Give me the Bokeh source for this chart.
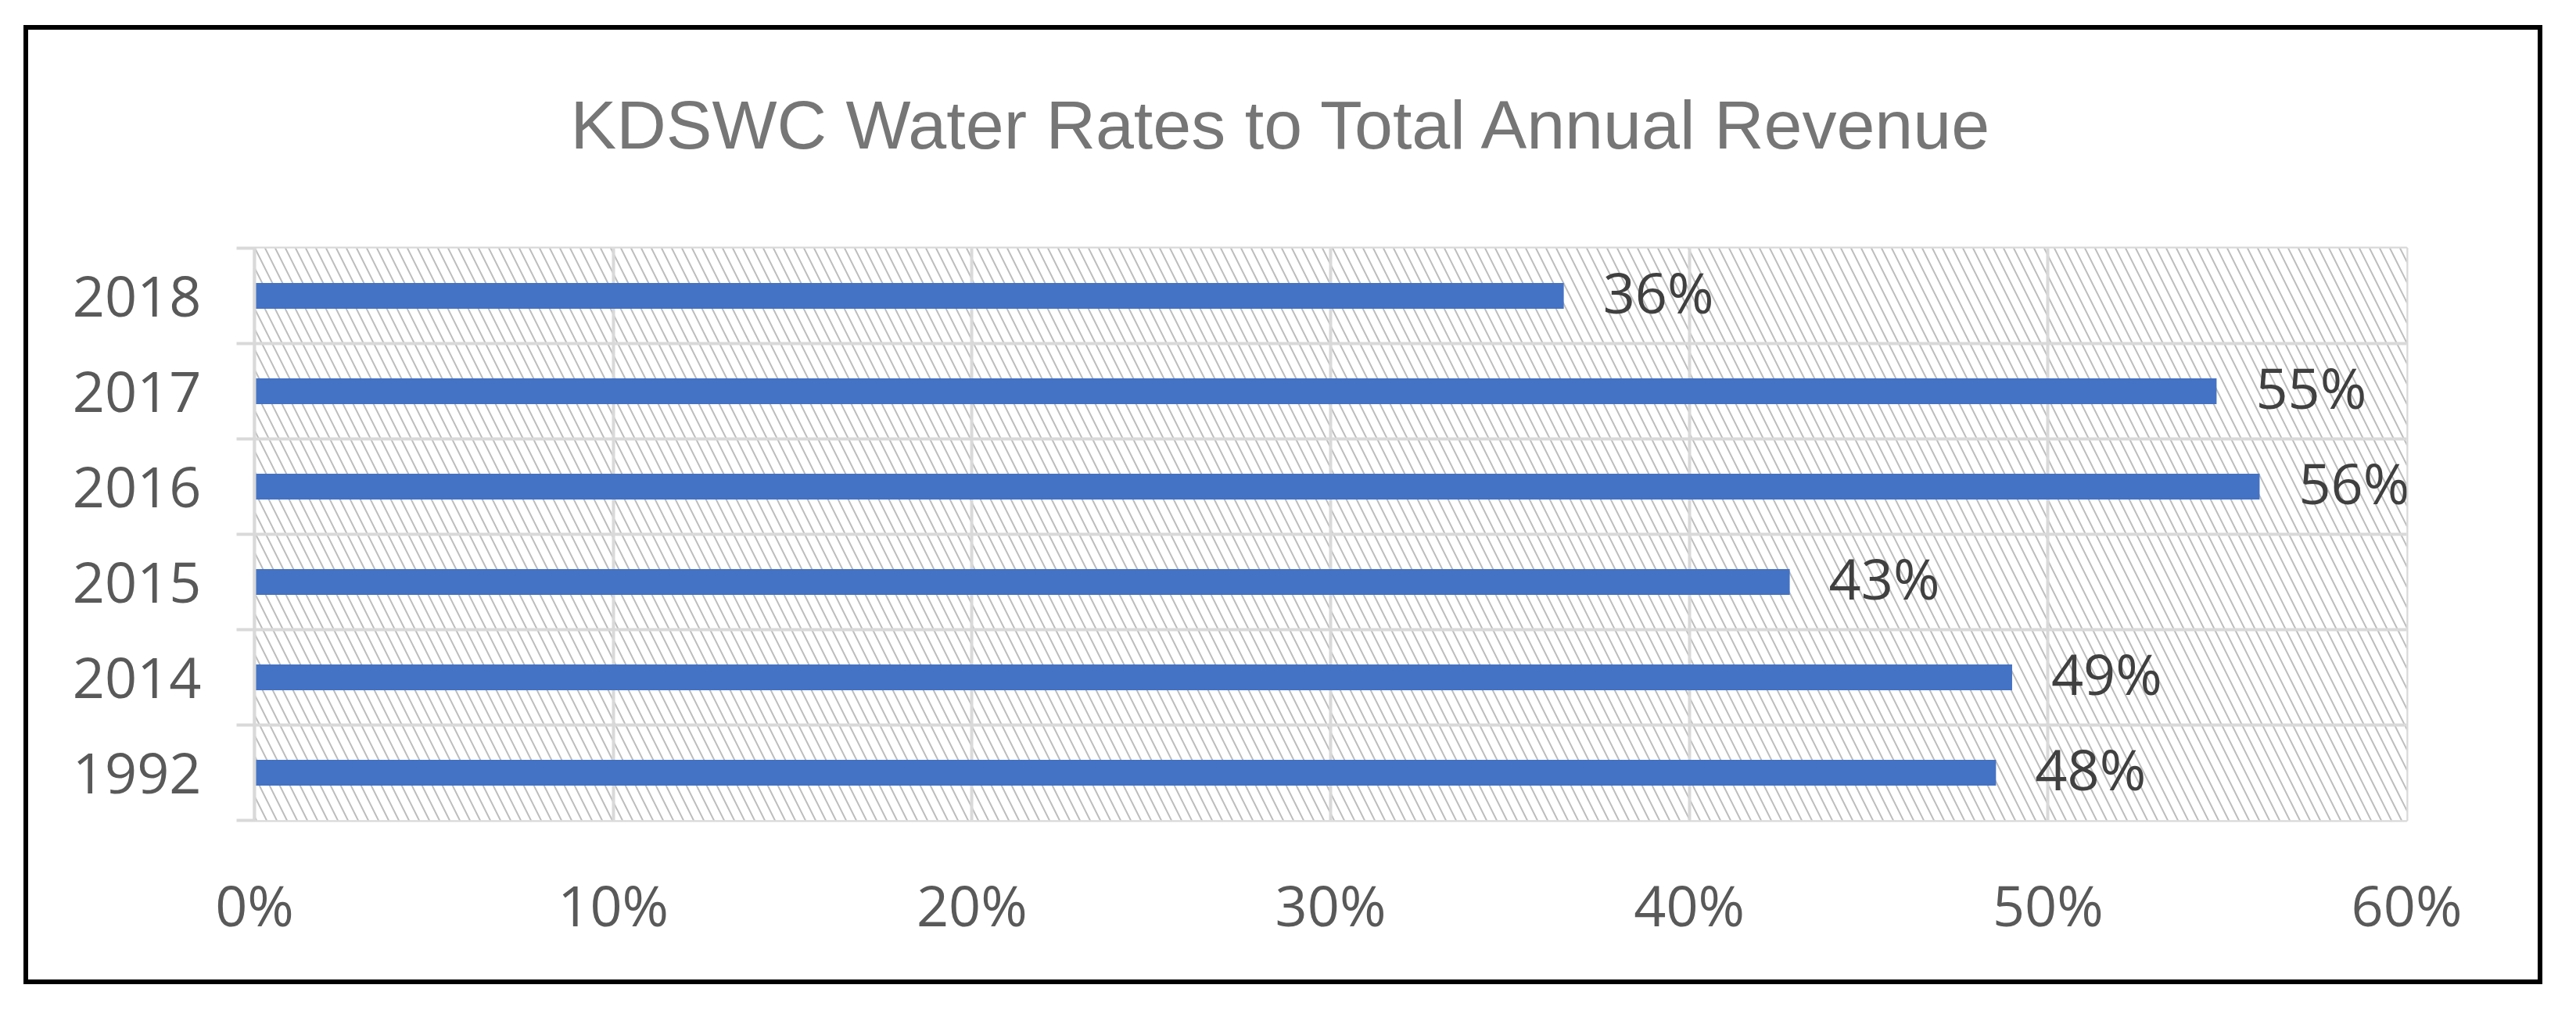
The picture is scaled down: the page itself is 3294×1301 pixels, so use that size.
from bokeh.plotting import figure
from bokeh.models import Range1d, FixedTicker, NumeralTickFormatter, ColumnDataSource, LabelSet, Title
from bokeh.core.properties import value
from bokeh.embed import file_html
from bokeh.resources import INLINE

# ---- data ----
years = ["1992", "2014", "2015", "2016", "2017", "2018"]          # bottom -> top
shares = [0.4855, 0.490, 0.428, 0.559, 0.547, 0.365]              # fraction of revenue
share_labels = ["48%", "49%", "43%", "56%", "55%", "36%"]
x_ticks = [0.0, 0.1, 0.2, 0.3, 0.4, 0.5, 0.6]
title_text = "KDSWC Water Rates to Total  Annual  Revenue"

y_centers = [i + 0.5 for i in range(len(years))]
src = ColumnDataSource(dict(y=y_centers, v=shares, lab=share_labels))

GRID = "#d9d9d9"
TICK_FONT = "Open Sans"

p = figure(width=3221, height=1227,
           min_border_left=289, min_border_right=180,
           min_border_top=279, min_border_bottom=216,
           x_range=Range1d(0, 0.6), y_range=Range1d(0, len(years)),
           output_backend="svg", toolbar_location=None,
           background_fill_color="white", border_fill_color="white")
p.margin = (32, 0, 0, 30)
p.styles = {"border": "6px solid black"}

# blank spacer between the plot area and the title
spacer = Title(text=" ", text_font_size="10px", standoff=96)
p.add_layout(spacer, "above")

# title
p.title.text = title_text
p.title.align = "left"
p.title.offset = 404
p.title.text_font = "Liberation Sans"
p.title.text_font_size = "88px"
p.title.text_font_style = "normal"
p.title.text_color = "#767676"
p.title.standoff = 0

# hatched plot area
bg = p.quad(left=[0], right=[0.6], bottom=[0], top=[len(years)],
            fill_color="white", line_color=None,
            hatch_pattern="\\", hatch_color="#bdbdbd", hatch_scale=26, hatch_weight=2)
bg.level = "image"

# bars
p.hbar(y="y", right="v", left=0, height=0.27, source=src,
       fill_color="#4472C4", line_color=None)

labels = LabelSet(x="v", y="y", text="lab", source=src, x_offset=50, y_offset=6,
                  text_baseline="middle", text_align="left",
                  text_font=value(TICK_FONT), text_font_size=value("72px"),
                  text_color="#404040")
p.add_layout(labels)

# x axis
p.xaxis.ticker = FixedTicker(ticks=x_ticks)
p.xaxis.formatter = NumeralTickFormatter(format="0%")
p.xaxis.axis_line_color = None
p.xaxis.major_tick_line_color = None
p.xaxis.minor_tick_line_color = None
p.xaxis.major_label_standoff = 52
p.xaxis.major_label_text_font = TICK_FONT
p.xaxis.major_label_text_font_size = "72px"
p.xaxis.major_label_text_color = "#595959"

# y axis
p.yaxis.ticker = FixedTicker(ticks=y_centers, minor_ticks=list(range(len(years) + 1)))
p.yaxis.major_label_overrides = {c: y for c, y in zip(y_centers, years)}
p.yaxis.axis_line_color = GRID
p.yaxis.axis_line_width = 4
p.yaxis.major_tick_line_color = None
p.yaxis.major_tick_out = 0
p.yaxis.major_tick_in = 0
p.yaxis.minor_tick_line_color = GRID
p.yaxis.minor_tick_line_width = 4
p.yaxis.minor_tick_out = 23
p.yaxis.minor_tick_in = 0
p.yaxis.major_label_standoff = 45
p.yaxis.major_label_text_font = TICK_FONT
p.yaxis.major_label_text_font_size = "72px"
p.yaxis.major_label_text_color = "#595959"

# grids
p.xgrid.ticker = FixedTicker(ticks=x_ticks)
p.xgrid.grid_line_color = GRID
p.xgrid.grid_line_width = 4
p.ygrid.ticker = FixedTicker(ticks=list(range(len(years) + 1)))
p.ygrid.grid_line_color = GRID
p.ygrid.grid_line_width = 4

p.outline_line_color = GRID
p.outline_line_width = 4

open("out.html", "w").write(file_html(p, INLINE))
